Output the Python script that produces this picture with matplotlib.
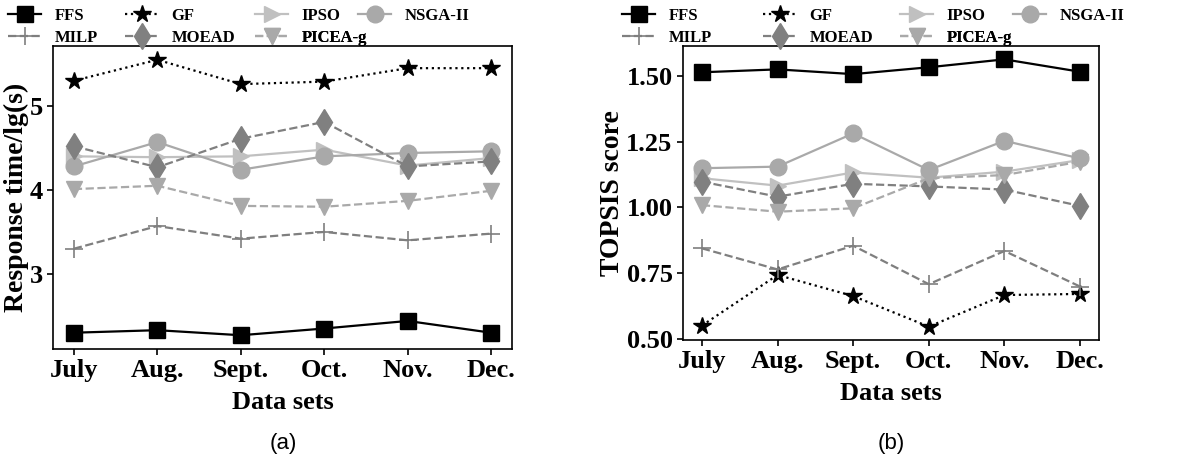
import matplotlib
matplotlib.use('Agg')
import matplotlib.pyplot as plt
from matplotlib.ticker import FormatStrFormatter

plt.rcParams['font.family'] = ['Liberation Serif', 'DejaVu Serif']
plt.rcParams['font.weight'] = 'bold'

# Data
months = ['July', 'Aug.', 'Sept.', 'Oct.', 'Nov.', 'Dec.']
methods = ['FFS', 'GF', 'IPSO', 'NSGA-II', 'MILP', 'MOEAD', 'PICEA-g']

# (a) response time, lg(s)
resp = {
    'FFS':     [2.30, 2.33, 2.27, 2.35, 2.44, 2.30],
    'GF':      [5.30, 5.55, 5.26, 5.29, 5.45, 5.45],
    'IPSO':    [4.40, 4.39, 4.40, 4.48, 4.29, 4.38],
    'NSGA-II': [4.28, 4.57, 4.24, 4.40, 4.44, 4.46],
    'MILP':    [3.30, 3.57, 3.42, 3.50, 3.40, 3.48],
    'MOEAD':   [4.52, 4.27, 4.61, 4.81, 4.28, 4.34],
    'PICEA-g': [4.01, 4.05, 3.81, 3.80, 3.87, 3.99],
}

# (b) TOPSIS score
topsis = {
    'FFS':     [1.513, 1.524, 1.506, 1.532, 1.562, 1.515],
    'GF':      [0.552, 0.744, 0.664, 0.548, 0.668, 0.672],
    'IPSO':    [1.111, 1.083, 1.133, 1.113, 1.136, 1.180],
    'NSGA-II': [1.149, 1.155, 1.281, 1.142, 1.253, 1.186],
    'MILP':    [0.845, 0.765, 0.855, 0.709, 0.835, 0.700],
    'MOEAD':   [1.098, 1.041, 1.090, 1.080, 1.068, 1.006],
    'PICEA-g': [1.009, 0.984, 0.997, 1.111, 1.123, 1.174],
}

# line styles for each method
styles = {
    'FFS':     dict(color='black', ls='-', marker='s', ms=11),
    'GF':      dict(color='black', ls=':', marker='*', ms=13),
    'IPSO':    dict(color='#c0c0c0', ls='-', marker='>', ms=12),
    'NSGA-II': dict(color='#a9a9a9', ls='-', marker='o', ms=12),
    'MILP':    dict(color='#7f7f7f', ls='--', marker='+', ms=13, mew=1.2),
    'MOEAD':   dict(color='#808080', ls='--', marker='d', ms=13),
    'PICEA-g': dict(color='#a9a9a9', ls='--', marker='v', ms=12),
}

# legend grid: (column, row) of each entry, and column starts in pixels
leg_cell = {'FFS': (0, 0), 'GF': (1, 0), 'IPSO': (2, 0), 'NSGA-II': (3, 0),
            'MILP': (0, 1), 'MOEAD': (1, 1), 'PICEA-g': (2, 1)}
leg_cols_a = [8, 125, 255, 358]
leg_cols_b = [622, 763, 900, 1013]
leg_rows = [16, 38]

W, H = 1182.0, 454.0
fig = plt.figure(figsize=(W / 100, H / 100), dpi=100)
ax1 = fig.add_axes([53 / W, 1 - 349 / H, 459 / W, 303 / H])
ax2 = fig.add_axes([683 / W, 1 - 340 / H, 416 / W, 294 / H])

x = list(range(len(months)))


def draw(ax, data, cols):
    for m in methods:
        ln, = ax.plot(x, data[m], lw=1.6, label=m, **styles[m])
        c, r = leg_cell[m]
        # one small legend per entry so the grid matches the original
        lg = ax.legend([ln], [m], frameon=False, loc='center left',
                       bbox_to_anchor=(cols[c] / W, 1 - leg_rows[r] / H),
                       bbox_transform=fig.transFigure, borderpad=0,
                       borderaxespad=0, handletextpad=0.8,
                       prop={'size': 12, 'weight': 'bold'})
        ax.add_artist(lg)
    ax.set_xticks(x)
    ax.set_xticklabels(months)
    ax.tick_params(labelsize=19, width=1.2, length=4)
    for sp in ax.spines.values():
        sp.set_linewidth(1.2)
    ax.set_xlabel('Data sets', fontsize=19, fontweight='bold', labelpad=6)


draw(ax1, resp, leg_cols_a)
ax1.set_yticks([3, 4, 5])
ax1.set_ylabel('Response time/lg(s)', fontsize=20, fontweight='bold')
ax1.yaxis.set_label_coords(-0.052, 0.5)

draw(ax2, topsis, leg_cols_b)
ax2.set_yticks([0.5, 0.75, 1.0, 1.25, 1.5])
ax2.yaxis.set_major_formatter(FormatStrFormatter('%.2f'))
ax2.set_ylabel('TOPSIS score', fontsize=20, fontweight='bold')
ax2.yaxis.set_label_coords(-0.14, 0.5)

fig.text(283 / W, 1 - 443 / H, '(a)', ha='center', va='center', fontsize=16,
         family='Liberation Sans', fontweight='normal')
fig.text(891 / W, 1 - 443 / H, '(b)', ha='center', va='center', fontsize=16,
         family='Liberation Sans', fontweight='normal')

fig.savefig('out.png', dpi=100)
